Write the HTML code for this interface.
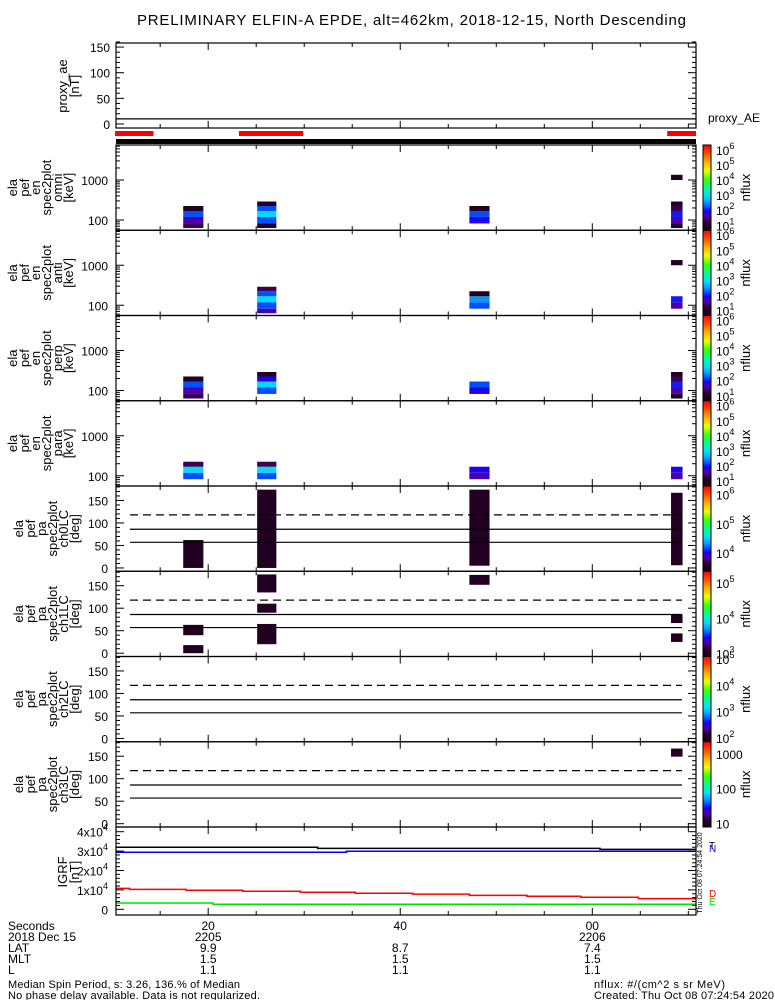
<!DOCTYPE html>
<html><head><meta charset="utf-8"><style>
html,body{margin:0;padding:0;background:#fff}
svg{display:block;font-family:"Liberation Sans",sans-serif}
</style></head><body>
<svg id="c" width="775" height="1000" viewBox="0 0 775 1000">
<rect width="775" height="1000" fill="#fff"/>
<text x="137" y="25" font-size="15" textLength="549">PRELIMINARY ELFIN-A EPDE, alt=462km, 2018-12-15, North Descending</text>
</svg>
<script>
// ---- data ----
const xTickSeconds = [20, 40, 60];
const xTickLabels = ['20', '40', '00'];
const hourLabels = ['2205', '', '2206'];
const latLabels = ['9.9', '8.7', '7.4'];
const mltLabels = ['1.5', '1.5', '1.5'];
const lLabels = ['1.1', '1.1', '1.1'];
const proxyAE = 10;
const redBarStart = [10.3, 23.2, 67.8];
const redBarEnd = [14.3, 29.9, 70.8];
const energyEdges = [63, 82, 119, 168, 224, 290, 390, 540, 740, 1000, 1350];
const colStart = [17.4, 25.1, 47.2, 68.2];
const colEnd = [19.5, 27.1, 49.3, 69.4];
// log10 flux per column per energy bin (null = no data)
const omniFlux = [
  [1.3, 1.6, 2.2, 1.0, null, null, null, null, null, null],
  [1.0, 2.2, 2.9, 2.2, 1.0, null, null, null, null, null],
  [null, 1.9, 2.2, 1.0, null, null, null, null, null, null],
  [1.0, 1.6, 2.0, 1.3, 1.0, null, null, null, null, 1.0]];
const antiFlux = [
  [null, null, null, null, null, null, null, null, null, null],
  [1.6, 2.2, 2.9, 2.2, 1.3, null, null, null, null, null],
  [null, 2.2, 2.5, 1.0, null, null, null, null, null, null],
  [null, 1.6, 2.0, null, null, null, null, null, null, 1.0]];
const perpFlux = [
  [1.3, 1.6, 2.2, 1.0, null, null, null, null, null, null],
  [null, 2.2, 2.9, 1.9, 1.0, null, null, null, null, null],
  [null, 1.9, 2.2, null, null, null, null, null, null, null],
  [1.0, 1.6, 2.0, 1.3, 1.0, null, null, null, null, null]];
const paraFlux = [
  [null, 2.2, 2.9, 1.3, null, null, null, null, null, null],
  [null, 2.2, 2.9, 1.3, null, null, null, null, null, null],
  [null, 1.6, 1.9, null, null, null, null, null, null, null],
  [null, 1.6, 1.9, null, null, null, null, null, null, null]];
// pitch angle blocks: column index, lo, hi (deg)
const ch0Col = [0, 1, 2, 3];
const ch0Lo = [0, 0, 5, 6];
const ch0Hi = [62, 174, 174, 167];
const ch1Col = [0, 0, 1, 1, 1, 2, 3, 3];
const ch1Lo = [40, 0, 135, 90, 20, 152, 67, 25];
const ch1Hi = [63, 18, 175, 110, 65, 174, 86, 44];
const ch2Col = [];
const ch2Lo = [];
const ch2Hi = [];
const ch3Col = [3];
const ch3Lo = [149];
const ch3Hi = [167];
const lossConeLines = [57, 86];
const antiLossCone = 118;
// IGRF step series
const igrfTotT = [10.4, 31.4, 60.8];
const igrfTotV = [31960, 31400, 30900];
const igrfNT = [10.4, 34.4];
const igrfNV = [29400, 29900];
const igrfDT = [10.4, 11.8, 17.7, 23.6, 29.6, 35.3, 41.3, 47.2, 53.2, 58.8, 64.8];
const igrfDV = [10800, 10300, 9800, 9300, 8800, 8300, 7800, 7200, 6700, 6200, 5500];
const igrfET = [10.4, 20.5];
const igrfEV = [3250, 2600];

// ---- layout ----
const svg = document.getElementById('c');
const NS = 'http://www.w3.org/2000/svg';
const X0 = 116, X1 = 696, T0 = 10.4, T1 = 70.8;
function xs(t){ return X0 + (t - T0) * (X1 - X0) / (T1 - T0); }
function mk(tag, attrs, parent){ const e = document.createElementNS(NS, tag); for (const k in attrs) e.setAttribute(k, attrs[k]); (parent||svg).appendChild(e); return e; }
function line(x1,y1,x2,y2,col,w,dash){ const l = mk('line',{x1:x1,y1:y1,x2:x2,y2:y2,stroke:col||'#000','stroke-width':w||1}); if(dash) l.setAttribute('stroke-dasharray',dash); return l; }
function txt(x,y,s,size,anchor,fill){ const t = mk('text',{x:x,y:y,'font-size':size||12,'text-anchor':anchor||'start',fill:fill||'#000'}); t.textContent = s; return t; }

const stops = [[0,'#200020'],[0.08,'#220024'],[0.12,'#400060'],[0.17,'#4a00b8'],[0.22,'#2000f0'],[0.27,'#0050ff'],[0.33,'#00a0ff'],[0.4,'#00e0ff'],[0.5,'#00ff90'],[0.6,'#40ff00'],[0.7,'#e8ff00'],[0.8,'#ffb000'],[0.9,'#ff5000'],[1,'#ff0000']];
function hex(h){ return [1,3,5].map(i=>parseInt(h.substr(i,2),16)); }
function cmap(f){ f=Math.max(0,Math.min(1,f)); for(let i=1;i<stops.length;i++){ if(f<=stops[i][0]){ const a=stops[i-1],b=stops[i]; const u=(f-a[0])/(b[0]-a[0]); const ca=hex(a[1]),cb=hex(b[1]); return 'rgb('+ca.map((v,j)=>Math.round(v+(cb[j]-v)*u)).join(',')+')'; } } return stops[stops.length-1][1]; }
const defs = mk('defs',{});
const grad = mk('linearGradient',{id:'cb',x1:0,y1:1,x2:0,y2:0},defs);
stops.forEach(s=>mk('stop',{offset:s[0],'stop-color':s[1]},grad));

function xTicks(top, bot){
  for (let t = 15; t <= 70; t += 5){
    const x = xs(t), major = (t % 20 === 0);
    const L = major ? 7 : 4;
    line(x, bot, x, bot - L); line(x, top, x, top + L);
  }
}
function leftLabel(lines, centers, mid, name){
  const g = mk('g',{});
  
  
  lines.forEach((s,i)=>{ const bx = centers[i] + 4; const t = mk('text',{x:bx,y:mid,'font-size':13,'text-anchor':'middle',transform:'rotate(-90 '+bx+' '+mid+')'},g); t.textContent = s; });
}
function colorbar(top, bot, lo, hi, labels, name){
  const g = mk('g',{});
  
  
  mk('rect',{x:703,y:top,width:8,height:bot-top,fill:'url(#cb)',stroke:'#000','stroke-width':1},g);
  labels.forEach(l=>{ const y = bot - (l.v - lo)/(hi - lo)*(bot - top);
    const t = mk('text',{x:716,y:y+5,'font-size':12},g);
    if (l.exp){ t.textContent = '10'; const sp = mk('tspan',{dy:-6,'font-size':9},t); sp.textContent = l.v; }
    else t.textContent = l.txt;
  });
  const my = (top+bot)/2, bx = 750;
  const nt = mk('text',{x:bx,y:my,'font-size':13,'text-anchor':'middle',transform:'rotate(-90 '+bx+' '+my+')'},g);
  nt.textContent = 'nflux';
}

// ---- proxy_ae panel ----
(function(){
  const top = 43, bot = 128, z = 124, k = 0.513;
  const ys = v => z - v*k;
  mk('rect',{x:X0,y:top,width:X1-X0,height:bot-top,fill:'none',stroke:'#000','stroke-width':1.2});
  const ae = line(X0, ys(proxyAE), X1, ys(proxyAE), '#000', 1.2);
  
  
  for (let v = 0; v <= 160; v += 10){ const y = ys(v); const L = v%50===0?8:4; line(X0,y,X0+L,y); line(X1,y,X1-L,y); }
  [0,50,100,150].forEach(v=>txt(110, ys(v)+5, String(v), 12, 'end'));
  xTicks(top, bot);
  leftLabel(['proxy_ae','[nT]'], [63,75], 86, 'proxy-ae-axis-title');
  const l = txt(708, 122, 'proxy_AE', 12);
  
  
  redBarStart.forEach((s,i)=>{ const r = mk('rect',{x:xs(s),y:131,width:xs(redBarEnd[i])-xs(s),height:5,fill:'#f00'});
    
     });
  const bb = mk('rect',{x:X0,y:139,width:X1-X0,height:5,fill:'#000'});
  
  
})();

const PT = [145, 230.25, 315.5, 400.75, 486, 571.25, 656.5, 741.75, 827];
// ---- energy spectrogram panels ----
const specPanels = [['omni', omniFlux], ['anti', antiFlux], ['perp', perpFlux], ['para', paraFlux]];
const cbExp = [1,2,3,4,5,6].map(v=>({v:v,exp:true}));
specPanels.forEach((p,pi)=>{
  const top = PT[pi], bot = PT[pi+1];
  const ys = E => top + 75 - (Math.log10(E) - 2) * 40;
  const lo = 0.67, hi = 6.33;
  const g = mk('g',{});
  
  
  p[1].forEach((col,ci)=>col.forEach((v,bi)=>{ if (v===null) return;
    const y1 = ys(energyEdges[bi+1]), y0 = ys(energyEdges[bi]);
    const r = mk('rect',{x:xs(colStart[ci]),y:y1,width:xs(colEnd[ci])-xs(colStart[ci]),height:y0-y1,fill:cmap((v-lo)/(hi-lo))},g);
    
    
  }));
  mk('rect',{x:X0,y:top,width:X1-X0,height:bot-top,fill:'none',stroke:'#000','stroke-width':1.2});
  [1,10,100,1000].forEach(d=>{ for (let m=1;m<10;m++){ const E=d*m; const y=ys(E); if (y<top||y>bot) continue; const L=m===1?8:4; line(X0,y,X0+L,y); line(X1,y,X1-L,y); } });
  txt(108, ys(1000)+5, '1000', 12, 'end'); txt(108, ys(100)+5, '100', 12, 'end');
  xTicks(top, bot);
  leftLabel(['ela','pef','en','spec2plot',p[0],'[keV]'], [13,25,36,47,58,69], (top+bot)/2, 'y-axis-title-'+p[0]);
  colorbar(top, bot, lo, hi, cbExp, 'colorbar-'+p[0]);
});

// ---- pitch angle panels ----
const paPanels = [['ch0LC', ch0Col, ch0Lo, ch0Hi, 3.37, 6.3, [4,5,6]],
                  ['ch1LC', ch1Col, ch1Lo, ch1Hi, 2.92, 5.33, [3,4,5]],
                  ['ch2LC', ch2Col, ch2Lo, ch2Hi, 1.85, 5.1, [2,3,4,5]],
                  ['ch3LC', ch3Col, ch3Lo, ch3Hi, 0.9, 3.35, null]];
paPanels.forEach((p,k)=>{
  const pi = k + 4, top = PT[pi], bot = PT[pi+1];
  const z = bot - 3.3, kk = 0.45;
  const ys = v => z - v*kk;
  const g = mk('g',{});
  
  
  p[1].forEach((ci,i)=>{ const r = mk('rect',{x:xs(colStart[ci]),y:ys(p[3][i]),width:xs(colEnd[ci])-xs(colStart[ci]),height:ys(p[2][i])-ys(p[3][i]),fill:cmap(0.02)},g);
    
     });
  lossConeLines.forEach(v=>line(130, ys(v), 682, ys(v), '#000', 1.2));
  line(130, ys(antiLossCone), 682, ys(antiLossCone), '#000', 1.2, '8,5');
  mk('rect',{x:X0,y:top,width:X1-X0,height:bot-top,fill:'none',stroke:'#000','stroke-width':1.2});
  for (let v=0; v<=180; v+=10){ const y=ys(v); if (y<top) continue; const L=v%50===0?8:4; line(X0,y,X0+L,y); line(X1,y,X1-L,y); }
  [0,50,100,150].forEach(v=>txt(108, ys(v)+5, String(v), 12, 'end'));
  xTicks(top, bot);
  leftLabel(['ela','pef','pa','spec2plot',p[0],'[deg]'], [19,31,42,53,64,75], (top+bot)/2, 'y-axis-title-'+p[0]);
  const labs = p[6] ? p[6].map(v=>({v:v,exp:true})) : [{v:1,txt:'10'},{v:2,txt:'100'},{v:3,txt:'1000'}];
  colorbar(top, bot, p[4], p[5], labs, 'colorbar-'+p[0]);
});

// ---- IGRF panel ----
(function(){
  const top = 827, bot = 915, z = 909.3, kk = 19.4/10000;
  const ys = v => z - v*kk;
  function step(T, V, col, name){
    let d = '';
    T.forEach((t,i)=>{ const x0 = xs(t), x1 = xs(i+1<T.length?T[i+1]:T1); const y = ys(V[i]);
      d += (i===0?'M':'L') + x0 + ' ' + y + ' L' + x1 + ' ' + y + ' '; });
    const p = mk('path',{d:d,fill:'none',stroke:col,'stroke-width':1.5});
    
    
  }
  step(igrfTotT, igrfTotV, '#000', 'igrf-total-line');
  step(igrfNT, igrfNV, '#0000ff', 'igrf-n-line');
  step(igrfDT, igrfDV, '#ff0000', 'igrf-d-line');
  step(igrfET, igrfEV, '#00e000', 'igrf-e-line');
  mk('rect',{x:X0,y:top,width:X1-X0,height:bot-top,fill:'none',stroke:'#000','stroke-width':1.2});
  for (let v=0; v<=40000; v+=2000){ const y=ys(v); const L=v%10000===0?8:4; line(X0,y,X0+L,y); line(X1,y,X1-L,y); }
  [0,1,2,3,4].forEach(m=>{ const y=ys(m*10000)+5;
    if (m===0){ txt(108,y,'0',12,'end'); return; }
    const t = txt(108,y,m+'x10',12,'end'); const sp = mk('tspan',{dy:-6,'font-size':9},t); sp.textContent='4'; });
  xTicks(top, bot);
  leftLabel(['IGRF','[nT]'], [63,75], 872, 'igrf-axis-title');
  const lg = [['T','#000',849],['N','#0000ff',852],['D','#ff0000',897],['E','#00e000',905]];
  lg.forEach(l=>{ const t = txt(709, l[2], l[0], 10, 'start', l[1]);
    
     });
  const st = mk('text',{x:702,y:873,'font-size':7,'text-anchor':'middle',transform:'rotate(-90 702 873)'});
  st.textContent = 'Thu Oct 08 07:24:54 2020';
})();

// ---- bottom annotation ----
const rows = [['Seconds', xTickLabels, 930], ['2018 Dec 15', hourLabels, 941], ['LAT', latLabels, 952], ['MLT', mltLabels, 963], ['L', lLabels, 974]];
rows.forEach(r=>{ const h = txt(8, r[2], r[0], 12);
  
  
  xTickSeconds.forEach((s,i)=>{ if (r[1][i]) txt(xs(s), r[2], r[1][i], 12, 'middle'); }); });
const n1 = txt(8, 988, 'Median Spin Period, s: 3.26, 136.% of Median', 11);
n1.setAttribute('textLength','232');
const n2 = txt(8, 999, 'No phase delay available. Data is not regularized.', 11);
n2.setAttribute('textLength','252');
const n3 = txt(594, 988, 'nflux: #/(cm^2 s sr MeV)', 11);
n3.setAttribute('textLength','131');
const n4 = txt(594, 999, 'Created: Thu Oct 08 07:24:54 2020', 11);
n4.setAttribute('textLength','180');
</script>
</body></html>
